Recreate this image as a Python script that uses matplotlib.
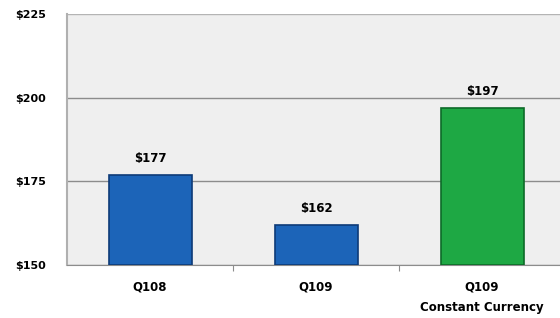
import matplotlib
matplotlib.use("Agg")
import matplotlib.pyplot as plt

categories = ["Q108", "Q109", "Q109\nConstant Currency"]
values = [177, 162, 197]
value_labels = ["$177", "$162", "$197"]
bar_colors = ["#1c64b8", "#1c64b8", "#1ea844"]
edge_colors = ["#0d3a78", "#0d3a78", "#0d6a28"]
yticks = [150, 175, 200, 225]
ytick_labels = ["$150", "$175", "$200", "$225"]

plt.rcParams['font.family'] = ['DejaVu Sans']

fig = plt.figure(figsize=(5.6, 3.18), dpi=100)
ax = fig.add_axes([67/560, 53/318, 498/560, 251/318])
ax.set_facecolor("#efefef")

x = range(len(categories))
bars = ax.bar(x, [v - 150 for v in values], bottom=150, width=0.5,
              color=bar_colors, edgecolor=edge_colors, linewidth=1.2, zorder=3)
for xi, v, lab in zip(x, values, value_labels):
    ax.text(xi, v + 3, lab, ha="center", va="bottom", fontsize=8.5,
            fontweight="bold", zorder=4)

ax.set_ylim(150, 225)
ax.set_xlim(-0.5, 2.5)
ax.set_yticks(yticks)
ax.set_yticklabels(ytick_labels, fontsize=8, fontweight="bold")
ax.yaxis.grid(True, color="#8c8c8c", linewidth=1.0, zorder=1)
ax.get_ygridlines()[-1].set_color("#b4b4b4")
ax.set_axisbelow(True)
ax.tick_params(axis="y", length=0, pad=15)

ax.set_xticks([0.5, 1.5, 2.5], minor=False)
ax.set_xticklabels([])
ax.set_xticks(list(x), minor=True)
ax.set_xticklabels(categories, minor=True, fontsize=8.5, fontweight="bold",
                   linespacing=1.75)
ax.tick_params(axis="x", which="minor", length=0, pad=11)
ax.tick_params(axis="x", which="major", length=4, color="#8c8c8c")

for s in ["top", "right"]:
    ax.spines[s].set_visible(False)
ax.spines["left"].set_color("#b0b0b0")
ax.spines["left"].set_linewidth(1.5)
ax.spines["bottom"].set_color("#8c8c8c")

fig.savefig("out.png", dpi=100)
